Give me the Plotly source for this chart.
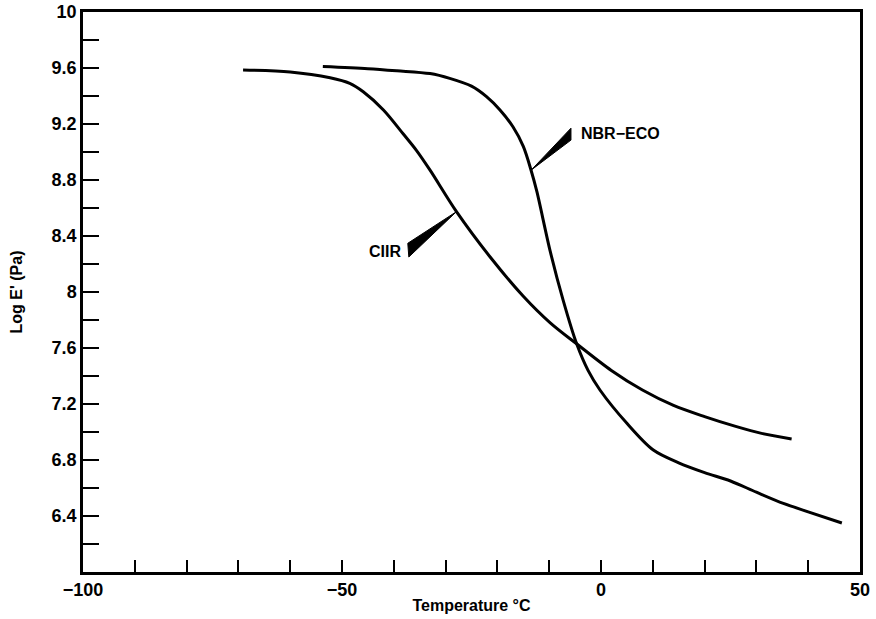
import plotly.graph_objects as go

# Storage modulus vs temperature for two elastomers
ciir_temp = [-69.1, -60.0, -52.3, -48.5, -45.9, -42.0, -38.2, -35.6, -33.0, -27.9,
             -21.4, -15.0, -9.8, -4.7, 2.0, 8.0, 14.0, 20.0, 26.0, 31.0, 36.8]
ciir_loge = [9.586, 9.572, 9.53, 9.49, 9.43, 9.30, 9.13, 9.01, 8.87, 8.574,
             8.25, 7.97, 7.78, 7.63, 7.44, 7.30, 7.19, 7.11, 7.04, 6.99, 6.95]

nbr_temp = [-53.7, -45.0, -39.4, -33.0, -29.2, -25.0, -22.1, -19.5, -17.0, -15.0,
            -13.5, -12.4, -9.8, -7.3, -4.7, -2.5, -0.2, 5.0, 10.1, 15.0,
            20.0, 25.0, 30.0, 35.2, 40.0, 46.5]
nbr_loge = [9.61, 9.595, 9.58, 9.56, 9.526, 9.47, 9.395, 9.30, 9.18, 9.04,
            8.87, 8.72, 8.29, 7.94, 7.63, 7.44, 7.30, 7.062, 6.871, 6.78,
            6.71, 6.65, 6.57, 6.49, 6.43, 6.35]

# Index of the point on each curve where its label pointer touches
ciir_tip = 9
nbr_tip = 10

x_ticks = list(range(-100, 51, 10))
x_labels = {-100: "\u2212100", -50: "\u221250", 0: "0", 50: "50"}
y_ticks = [round(6.0 + 0.2 * i, 1) for i in range(21)]
y_labels = {10.0: "10", 9.6: "9.6", 9.2: "9.2", 8.8: "8.8", 8.4: "8.4", 8.0: "8",
            7.6: "7.6", 7.2: "7.2", 6.8: "6.8", 6.4: "6.4"}

FONT = "Liberation Sans"

fig = go.Figure()
for xs, ys, name in [(ciir_temp, ciir_loge, "CIIR"), (nbr_temp, nbr_loge, "NBR-ECO")]:
    fig.add_trace(go.Scatter(x=xs, y=ys, mode="lines", name=name,
                             line=dict(color="black", width=3, shape="spline", smoothing=0.9),
                             showlegend=False))

# Wedge-shaped label pointers
cx, cy = ciir_temp[ciir_tip], ciir_loge[ciir_tip]
nx, ny = nbr_temp[nbr_tip], nbr_loge[nbr_tip]
shapes = [
    dict(type="path", xref="x", yref="y", fillcolor="black", line=dict(color="black", width=1),
         path=f"M {cx},{cy} L -37.3,8.348 L -37.1,8.25 Z"),
    dict(type="path", xref="x", yref="y", fillcolor="black", line=dict(color="black", width=1),
         path=f"M {nx},{ny} L -5.8,9.17 L -5.8,9.085 Z"),
]

annotations = [
    dict(x=-4.3, y=9.13, xref="x", yref="y", text="NBR\u2212ECO", showarrow=False,
         xanchor="left", yanchor="middle",
         font=dict(family=FONT, size=16, color="black", weight="bold")),
    dict(x=-38.3, y=8.29, xref="x", yref="y", text="CIIR", showarrow=False,
         xanchor="right", yanchor="middle",
         font=dict(family=FONT, size=16, color="black", weight="bold")),
]

fig.update_layout(
    width=876, height=619,
    margin=dict(l=83, r=16, t=12, b=47),
    paper_bgcolor="white", plot_bgcolor="white",
    shapes=shapes, annotations=annotations,
    font=dict(family=FONT, color="black"),
)
fig.update_xaxes(
    range=[-100, 50], tickmode="array", tickvals=x_ticks,
    ticktext=[x_labels.get(v, "") for v in x_ticks],
    ticks="inside", ticklen=12, tickwidth=2, tickcolor="black",
    showline=True, linewidth=2.5, linecolor="black", mirror=True,
    showgrid=False, zeroline=False, automargin=False,
    tickfont=dict(family=FONT, size=18, color="black", weight="bold"),
    title=dict(text="Temperature \u00b0C", standoff=1,
               font=dict(family=FONT, size=16, color="black", weight="bold")),
)
fig.update_yaxes(
    range=[6.0, 10.0], tickmode="array", tickvals=y_ticks,
    ticktext=[y_labels.get(v, "") for v in y_ticks],
    ticks="inside", ticklen=16, tickwidth=2, tickcolor="black",
    showline=True, linewidth=2.5, linecolor="black", mirror=True,
    showgrid=False, zeroline=False, automargin=False,
    tickfont=dict(family=FONT, size=18, color="black", weight="bold"),
    title=dict(text="Log E' (Pa)", standoff=26,
               font=dict(family=FONT, size=16, color="black", weight="bold")),
)

fig.write_html("out.html")
